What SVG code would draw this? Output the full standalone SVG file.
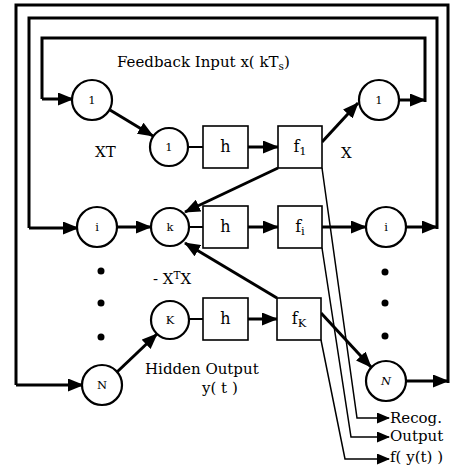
<svg xmlns="http://www.w3.org/2000/svg" width="456" height="470" viewBox="0 0 456 470">
<defs>
<marker id="ah" markerUnits="userSpaceOnUse" markerWidth="16" markerHeight="13" viewBox="0 0 16 13" refX="15" refY="6.5" orient="auto">
<path d="M0,0 L16,6.5 L0,13 z" fill="#000"/>
</marker>
<marker id="ahs" markerUnits="userSpaceOnUse" markerWidth="13" markerHeight="11" viewBox="0 0 13 11" refX="12" refY="5.5" orient="auto">
<path d="M0,0 L13,5.5 L0,11 z" fill="#000"/>
</marker>
<style>
.n circle{fill:#fff;stroke:#000;stroke-width:2.2}
.n rect{fill:#fff;stroke:#000;stroke-width:1.6}
.c{font-family:"DejaVu Serif","Liberation Serif",serif;font-size:11.5px;text-anchor:middle;fill:#000}
.b{font-family:"DejaVu Serif","Liberation Serif",serif;font-size:16px;text-anchor:middle;fill:#000}
.t{font-family:"DejaVu Serif","Liberation Serif",serif;font-size:15px;fill:#000}
.thick{fill:none;stroke:#000;stroke-width:3}
.arr{fill:none;stroke:#000;stroke-width:3;marker-end:url(#ah)}
.lk{fill:none;stroke:#000;stroke-width:2}
.out{fill:none;stroke:#000;stroke-width:1.5;marker-end:url(#ahs)}
.dot{fill:#000}
</style>
</defs>
<rect width="456" height="470" fill="#fff"/>
<g id="connectors">
<path class="thick" d="M448,383 V5 H16 V385"/>
<path class="arr" d="M16,385 H83"/>
<path class="thick" d="M437,229 V18 H29 V228"/>
<path class="arr" d="M29,228 H78"/>
<path class="thick" d="M425,102 V38 H42 V99"/>
<path class="arr" d="M42,99 H73"/>
<path class="arr" d="M399,100 H425"/>
<path class="arr" d="M406,227 H437"/>
<path class="arr" d="M406,381 H448"/>
<path class="arr" d="M110,110 L153,136"/>
<path class="lk" d="M188,147 H203"/>
<path class="arr" d="M248,147 H278"/>
<path class="arr" d="M322,142 L358,103"/>
<path class="arr" d="M278,168 L185,212"/>
<path class="arr" d="M117,227 H151"/>
<path class="lk" d="M189,227 H203"/>
<path class="arr" d="M248,227 H278"/>
<path class="arr" d="M322,227 H366"/>
<path class="arr" d="M277,298 L185,243"/>
<path class="lk" d="M189,319 H203"/>
<path class="arr" d="M248,319 H277"/>
<path class="arr" d="M117,372 L157,334"/>
<path class="arr" d="M321,313 L371,367"/>
<path class="out" d="M322,168 L357,418 H389"/>
<path class="out" d="M322,248 L351,437 H389"/>
<path class="out" d="M321,340 L345,459 H389"/>
</g>
<g id="in_1" class="n"><circle cx="92" cy="100" r="20"/><text class="c" x="92" y="104">1</text></g>
<g id="in_i" class="n"><circle cx="97" cy="227" r="20"/><text class="c" x="97" y="231">i</text></g>
<g id="in_N" class="n"><circle cx="102" cy="385" r="20"/><text class="c" x="102" y="389">N</text></g>
<g id="hid_1" class="n"><circle cx="169" cy="147" r="19"/><text class="c" x="169" y="151">1</text></g>
<g id="hid_k" class="n"><circle cx="170" cy="227" r="19"/><text class="c" x="170" y="231">k</text></g>
<g id="hid_K" class="n"><circle cx="170" cy="320" r="19"/><text class="c" x="170" y="324">K</text></g>
<g id="h_1" class="n"><rect x="203" y="126" width="45" height="42"/><text class="b" x="225.5" y="152">h</text></g>
<g id="h_i" class="n"><rect x="203" y="206" width="45" height="42"/><text class="b" x="225.5" y="232">h</text></g>
<g id="h_K" class="n"><rect x="203" y="298" width="45" height="42"/><text class="b" x="225.5" y="324">h</text></g>
<g id="f_1" class="n"><rect x="278" y="126" width="44" height="42"/><text class="b" x="300" y="152">f<tspan font-size="11.5" dy="3">1</tspan></text></g>
<g id="f_i" class="n"><rect x="278" y="206" width="44" height="42"/><text class="b" x="300" y="232">f<tspan font-size="11.5" dy="3">i</tspan></text></g>
<g id="f_K" class="n"><rect x="277" y="298" width="44" height="42"/><text class="b" x="299" y="324">f<tspan font-size="11.5" dy="3">K</tspan></text></g>
<g id="out_1" class="n"><circle cx="379" cy="100" r="20"/><text class="c" x="379" y="104">1</text></g>
<g id="out_i" class="n"><circle cx="386" cy="227" r="20"/><text class="c" x="386" y="231">i</text></g>
<g id="out_N" class="n"><circle cx="386" cy="381" r="20"/><text class="c" x="386" y="385" font-style="italic">N</text></g>
<g id="dots">
<circle class="dot" cx="101" cy="271" r="3.5"/>
<circle class="dot" cx="101" cy="303" r="3.5"/>
<circle class="dot" cx="101" cy="337" r="3.5"/>
<circle class="dot" cx="385" cy="272" r="3.5"/>
<circle class="dot" cx="385" cy="303" r="3.5"/>
<circle class="dot" cx="385" cy="336" r="3.5"/>
</g>
<g id="labels">
<text class="t" x="117" y="67">Feedback Input x( kT<tspan font-size="10.5" dy="3">s</tspan><tspan dy="-3">)</tspan></text>
<text class="t" x="95" y="157">XT</text>
<text class="t" x="341" y="158">X</text>
<text class="t" x="153" y="284">- X<tspan font-size="10.5" dy="-5">T</tspan><tspan dy="5">X</tspan></text>
<text class="t" x="145" y="374">Hidden Output</text>
<text class="t" x="202" y="393">y( t )</text>
<text class="t" x="390" y="423">Recog.</text>
<text class="t" x="390" y="441">Output</text>
<text class="t" x="390" y="462">f( y(t) )</text>
</g>
</svg>
